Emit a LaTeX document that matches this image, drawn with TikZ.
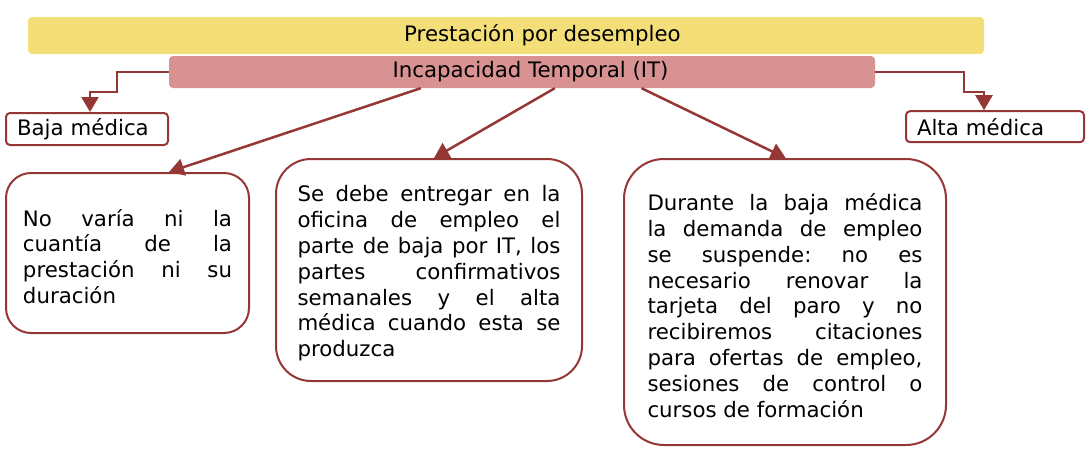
\documentclass[tikz,border=0pt]{standalone}
\usepackage{fontspec}
\setmainfont{DejaVu Sans}
\usetikzlibrary{arrows.meta}
\definecolor{ybar}{RGB}{244,222,120}
\definecolor{pbar}{RGB}{217,146,146}
\definecolor{dred}{RGB}{149,55,53}
\frenchspacing
\begin{document}
\begin{tikzpicture}[x=1pt,y=-1pt,
 txt/.style={font=\fontsize{21.3}{25.8}\selectfont, text=black},
 bar/.style={txt, rounded corners=4pt, inner sep=0pt},
 smallbox/.style={txt, draw=dred, line width=2pt, rounded corners=4pt, fill=white, align=left, inner xsep=11pt, inner ysep=0pt},
 bigbox/.style={txt, draw=dred, line width=2pt, fill=white, align=justify, inner ysep=0pt},
 conn/.style={draw=dred, line width=2.5pt, -{Triangle[length=15pt,width=17pt]}}]
\useasboundingbox (0,0) rectangle (1088,450);

\node[bar, fill=ybar, minimum width=956pt, minimum height=37pt] (pd) at (506,35.5) {\hspace*{73pt}Prestación por desempleo};
\node[bar, fill=pbar, minimum width=706pt, minimum height=32pt] (it) at (522,72) {\hspace*{17pt}Incapacidad Temporal (IT)};

\node[smallbox, text width=140pt, minimum height=32pt] (bm) at (87,129) {Baja médica};
\node[smallbox, text width=156pt, minimum height=31pt] (am) at (995,126.7) {Alta médica};

\node[bigbox, rounded corners=25pt, text width=209pt, inner xsep=17pt, minimum height=160pt] (b1) at (127.5,253)
 {No varía ni la\linebreak cuantía de la\linebreak prestación ni su\linebreak duración\par\vspace{-7pt}};
\node[bigbox, rounded corners=35pt, text width=263pt, inner xsep=21.5pt, minimum height=222pt] (b2) at (429,270)
 {Se debe entregar en la\linebreak oficina de empleo el\linebreak parte de baja por IT, los\linebreak partes confirmativos\linebreak semanales y el alta\linebreak médica cuando esta se\linebreak produzca\par\vspace{-7pt}};
\node[bigbox, rounded corners=40pt, text width=275pt, inner xsep=23.5pt, minimum height=286pt] (b3) at (785,302)
 {Durante la baja médica\linebreak la demanda de empleo\linebreak se suspende: no es\linebreak necesario renovar la\linebreak tarjeta del paro y no\linebreak recibiremos citaciones\linebreak para ofertas de empleo,\linebreak sesiones de control o\linebreak cursos de formación\par\vspace{-7pt}};

\draw[conn] ([xshift=252pt]it.south west) -- ([xshift=164pt]b1.north west);
\draw[conn] ([xshift=386pt]it.south west) -- ([xshift=159pt]b2.north west);
\draw[conn] ([xshift=472.7pt]it.south west) -- ([xshift=162.7pt]b3.north west);
\draw[conn] (it.west) -| (117,92) -| ([xshift=3pt]bm.north);
\draw[conn] (it.east) -| (964,92) -| ([xshift=-11pt]am.north);
\end{tikzpicture}
\end{document}
